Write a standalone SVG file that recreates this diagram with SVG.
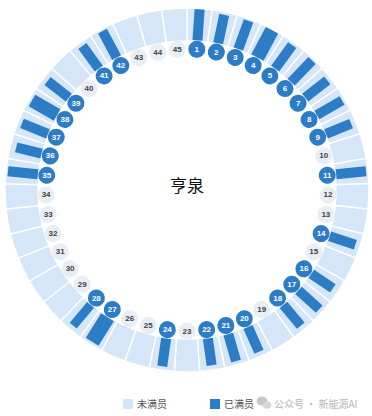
<svg xmlns="http://www.w3.org/2000/svg" xmlns:xlink="http://www.w3.org/1999/xlink" width="372" height="416" viewBox="0 0 372 416">
<style>
.wedge{fill:#d4e6f7;stroke:#ffffff;stroke-width:1.4}
.bar{fill:#2d7cc6}
.dot{fill:#2d7cc6}
.dotl{fill:#e9eef4}
.ld{font-family:"Liberation Sans",Arial,sans-serif;font-size:8px;font-weight:bold;fill:#ffffff;text-anchor:middle;dominant-baseline:central}
.ll{font-family:"Liberation Sans",Arial,sans-serif;font-size:8px;font-weight:bold;fill:#444444;text-anchor:middle;dominant-baseline:central}
.leg{font-family:"Noto Sans CJK SC","Liberation Sans",sans-serif;font-size:10px;fill:#555555}
.wm{font-family:"Noto Sans CJK SC","Liberation Sans",sans-serif;font-size:10px;fill:#b5b5b5}
</style>
<defs>
<path id="wedge" class="wedge" d="M174.304,8.443 A182,182 0 0 1 199.696,8.443 L197.394,41.363 A149,149 0 0 0 176.606,41.363 Z"/>
</defs>
<rect width="372" height="416" fill="#ffffff"/>
<g id="connectors"></g>
<g id="ring">
<g id="seg-1" transform="rotate(4 187 190)"><use xlink:href="#wedge" href="#wedge"/><rect class="bar" x="182" y="9" width="10" height="31"/><circle class="dot" cx="187" cy="49" r="8.5"/><text class="ld" x="187" y="49" transform="rotate(-4 187 49)">1</text></g>
<g id="seg-2" transform="rotate(12 187 190)"><use xlink:href="#wedge" href="#wedge"/><rect class="bar" x="182" y="11" width="10" height="29"/><circle class="dot" cx="187" cy="49" r="8.5"/><text class="ld" x="187" y="49" transform="rotate(-12 187 49)">2</text></g>
<g id="seg-3" transform="rotate(20 187 190)"><use xlink:href="#wedge" href="#wedge"/><rect class="bar" x="182" y="10" width="10" height="30"/><circle class="dot" cx="187" cy="49" r="8.5"/><text class="ld" x="187" y="49" transform="rotate(-20 187 49)">3</text></g>
<g id="seg-4" transform="rotate(28 187 190)"><use xlink:href="#wedge" href="#wedge"/><rect class="bar" x="180" y="9" width="14" height="31"/><circle class="dot" cx="187" cy="49" r="8.5"/><text class="ld" x="187" y="49" transform="rotate(-28 187 49)">4</text></g>
<g id="seg-5" transform="rotate(36 187 190)"><use xlink:href="#wedge" href="#wedge"/><rect class="bar" x="182" y="11" width="10" height="29"/><circle class="dot" cx="187" cy="49" r="8.5"/><text class="ld" x="187" y="49" transform="rotate(-36 187 49)">5</text></g>
<g id="seg-6" transform="rotate(44 187 190)"><use xlink:href="#wedge" href="#wedge"/><rect class="bar" x="182" y="10" width="10" height="30"/><circle class="dot" cx="187" cy="49" r="8.5"/><text class="ld" x="187" y="49" transform="rotate(-44 187 49)">6</text></g>
<g id="seg-7" transform="rotate(52 187 190)"><use xlink:href="#wedge" href="#wedge"/><rect class="bar" x="182" y="12" width="10" height="28"/><circle class="dot" cx="187" cy="49" r="8.5"/><text class="ld" x="187" y="49" transform="rotate(-52 187 49)">7</text></g>
<g id="seg-8" transform="rotate(60 187 190)"><use xlink:href="#wedge" href="#wedge"/><rect class="bar" x="182" y="11" width="10" height="29"/><circle class="dot" cx="187" cy="49" r="8.5"/><text class="ld" x="187" y="49" transform="rotate(-60 187 49)">8</text></g>
<g id="seg-9" transform="rotate(68 187 190)"><use xlink:href="#wedge" href="#wedge"/><rect class="bar" x="182" y="13" width="10" height="27"/><circle class="dot" cx="187" cy="49" r="8.5"/><text class="ld" x="187" y="49" transform="rotate(-68 187 49)">9</text></g>
<g id="seg-10" transform="rotate(76 187 190)"><use xlink:href="#wedge" href="#wedge"/><circle class="dotl" cx="187" cy="49" r="8.5"/><text class="ll" x="187" y="49" transform="rotate(-76 187 49)">10</text></g>
<g id="seg-11" transform="rotate(84 187 190)"><use xlink:href="#wedge" href="#wedge"/><rect class="bar" x="182" y="10" width="10" height="30"/><circle class="dot" cx="187" cy="49" r="8.5"/><text class="ld" x="187" y="49" transform="rotate(-84 187 49)">11</text></g>
<g id="seg-12" transform="rotate(92 187 190)"><use xlink:href="#wedge" href="#wedge"/><circle class="dotl" cx="187" cy="49" r="8.5"/><text class="ll" x="187" y="49" transform="rotate(-92 187 49)">12</text></g>
<g id="seg-13" transform="rotate(100 187 190)"><use xlink:href="#wedge" href="#wedge"/><circle class="dotl" cx="187" cy="49" r="8.5"/><text class="ll" x="187" y="49" transform="rotate(-100 187 49)">13</text></g>
<g id="seg-14" transform="rotate(108 187 190)"><use xlink:href="#wedge" href="#wedge"/><rect class="bar" x="182" y="13" width="10" height="27"/><circle class="dot" cx="187" cy="49" r="8.5"/><text class="ld" x="187" y="49" transform="rotate(-108 187 49)">14</text></g>
<g id="seg-15" transform="rotate(116 187 190)"><use xlink:href="#wedge" href="#wedge"/><circle class="dotl" cx="187" cy="49" r="8.5"/><text class="ll" x="187" y="49" transform="rotate(-116 187 49)">15</text></g>
<g id="seg-16" transform="rotate(124 187 190)"><use xlink:href="#wedge" href="#wedge"/><rect class="bar" x="182" y="14" width="10" height="26"/><circle class="dot" cx="187" cy="49" r="8.5"/><text class="ld" x="187" y="49" transform="rotate(-124 187 49)">16</text></g>
<g id="seg-17" transform="rotate(132 187 190)"><use xlink:href="#wedge" href="#wedge"/><rect class="bar" x="182" y="12" width="10" height="28"/><circle class="dot" cx="187" cy="49" r="8.5"/><text class="ld" x="187" y="49" transform="rotate(-132 187 49)">17</text></g>
<g id="seg-18" transform="rotate(140 187 190)"><use xlink:href="#wedge" href="#wedge"/><rect class="bar" x="182" y="13" width="10" height="27"/><circle class="dot" cx="187" cy="49" r="8.5"/><text class="ld" x="187" y="49" transform="rotate(-140 187 49)">18</text></g>
<g id="seg-19" transform="rotate(148 187 190)"><use xlink:href="#wedge" href="#wedge"/><circle class="dotl" cx="187" cy="49" r="8.5"/><text class="ll" x="187" y="49" transform="rotate(-148 187 49)">19</text></g>
<g id="seg-20" transform="rotate(156 187 190)"><use xlink:href="#wedge" href="#wedge"/><rect class="bar" x="182" y="13" width="10" height="27"/><circle class="dot" cx="187" cy="49" r="8.5"/><text class="ld" x="187" y="49" transform="rotate(-156 187 49)">20</text></g>
<g id="seg-21" transform="rotate(164 187 190)"><use xlink:href="#wedge" href="#wedge"/><rect class="bar" x="182" y="12" width="10" height="28"/><circle class="dot" cx="187" cy="49" r="8.5"/><text class="ld" x="187" y="49" transform="rotate(-164 187 49)">21</text></g>
<g id="seg-22" transform="rotate(172 187 190)"><use xlink:href="#wedge" href="#wedge"/><rect class="bar" x="182" y="13" width="10" height="27"/><circle class="dot" cx="187" cy="49" r="8.5"/><text class="ld" x="187" y="49" transform="rotate(-172 187 49)">22</text></g>
<g id="seg-23" transform="rotate(180 187 190)"><use xlink:href="#wedge" href="#wedge"/><circle class="dotl" cx="187" cy="49" r="8.5"/><text class="ll" x="187" y="49" transform="rotate(-180 187 49)">23</text></g>
<g id="seg-24" transform="rotate(188 187 190)"><use xlink:href="#wedge" href="#wedge"/><rect class="bar" x="182" y="12" width="10" height="28"/><circle class="dot" cx="187" cy="49" r="8.5"/><text class="ld" x="187" y="49" transform="rotate(-188 187 49)">24</text></g>
<g id="seg-25" transform="rotate(196 187 190)"><use xlink:href="#wedge" href="#wedge"/><circle class="dotl" cx="187" cy="49" r="8.5"/><text class="ll" x="187" y="49" transform="rotate(-196 187 49)">25</text></g>
<g id="seg-26" transform="rotate(204 187 190)"><use xlink:href="#wedge" href="#wedge"/><circle class="dotl" cx="187" cy="49" r="8.5"/><text class="ll" x="187" y="49" transform="rotate(-204 187 49)">26</text></g>
<g id="seg-27" transform="rotate(212 187 190)"><use xlink:href="#wedge" href="#wedge"/><rect class="bar" x="179.5" y="11" width="15" height="29"/><circle class="dot" cx="187" cy="49" r="8.5"/><text class="ld" x="187" y="49" transform="rotate(-212 187 49)">27</text></g>
<g id="seg-28" transform="rotate(220 187 190)"><use xlink:href="#wedge" href="#wedge"/><rect class="bar" x="182.5" y="13" width="9" height="27"/><circle class="dot" cx="187" cy="49" r="8.5"/><text class="ld" x="187" y="49" transform="rotate(-220 187 49)">28</text></g>
<g id="seg-29" transform="rotate(228 187 190)"><use xlink:href="#wedge" href="#wedge"/><circle class="dotl" cx="187" cy="49" r="8.5"/><text class="ll" x="187" y="49" transform="rotate(-228 187 49)">29</text></g>
<g id="seg-30" transform="rotate(236 187 190)"><use xlink:href="#wedge" href="#wedge"/><circle class="dotl" cx="187" cy="49" r="8.5"/><text class="ll" x="187" y="49" transform="rotate(-236 187 49)">30</text></g>
<g id="seg-31" transform="rotate(244 187 190)"><use xlink:href="#wedge" href="#wedge"/><circle class="dotl" cx="187" cy="49" r="8.5"/><text class="ll" x="187" y="49" transform="rotate(-244 187 49)">31</text></g>
<g id="seg-32" transform="rotate(252 187 190)"><use xlink:href="#wedge" href="#wedge"/><circle class="dotl" cx="187" cy="49" r="8.5"/><text class="ll" x="187" y="49" transform="rotate(-252 187 49)">32</text></g>
<g id="seg-33" transform="rotate(260 187 190)"><use xlink:href="#wedge" href="#wedge"/><circle class="dotl" cx="187" cy="49" r="8.5"/><text class="ll" x="187" y="49" transform="rotate(-260 187 49)">33</text></g>
<g id="seg-34" transform="rotate(268 187 190)"><use xlink:href="#wedge" href="#wedge"/><circle class="dotl" cx="187" cy="49" r="8.5"/><text class="ll" x="187" y="49" transform="rotate(-268 187 49)">34</text></g>
<g id="seg-35" transform="rotate(276 187 190)"><use xlink:href="#wedge" href="#wedge"/><rect class="bar" x="182" y="10" width="10" height="30"/><circle class="dot" cx="187" cy="49" r="8.5"/><text class="ld" x="187" y="49" transform="rotate(-276 187 49)">35</text></g>
<g id="seg-36" transform="rotate(284 187 190)"><use xlink:href="#wedge" href="#wedge"/><rect class="bar" x="182" y="14" width="10" height="26"/><circle class="dot" cx="187" cy="49" r="8.5"/><text class="ld" x="187" y="49" transform="rotate(-284 187 49)">36</text></g>
<g id="seg-37" transform="rotate(292 187 190)"><use xlink:href="#wedge" href="#wedge"/><rect class="bar" x="182" y="12" width="10" height="28"/><circle class="dot" cx="187" cy="49" r="8.5"/><text class="ld" x="187" y="49" transform="rotate(-292 187 49)">37</text></g>
<g id="seg-38" transform="rotate(300 187 190)"><use xlink:href="#wedge" href="#wedge"/><rect class="bar" x="180.5" y="11" width="13" height="29"/><circle class="dot" cx="187" cy="49" r="8.5"/><text class="ld" x="187" y="49" transform="rotate(-300 187 49)">38</text></g>
<g id="seg-39" transform="rotate(308 187 190)"><use xlink:href="#wedge" href="#wedge"/><rect class="bar" x="182" y="13" width="10" height="27"/><circle class="dot" cx="187" cy="49" r="8.5"/><text class="ld" x="187" y="49" transform="rotate(-308 187 49)">39</text></g>
<g id="seg-40" transform="rotate(316 187 190)"><use xlink:href="#wedge" href="#wedge"/><circle class="dotl" cx="187" cy="49" r="8.5"/><text class="ll" x="187" y="49" transform="rotate(-316 187 49)">40</text></g>
<g id="seg-41" transform="rotate(324 187 190)"><use xlink:href="#wedge" href="#wedge"/><rect class="bar" x="182" y="12" width="10" height="28"/><circle class="dot" cx="187" cy="49" r="8.5"/><text class="ld" x="187" y="49" transform="rotate(-324 187 49)">41</text></g>
<g id="seg-42" transform="rotate(332 187 190)"><use xlink:href="#wedge" href="#wedge"/><rect class="bar" x="182" y="10" width="10" height="30"/><circle class="dot" cx="187" cy="49" r="8.5"/><text class="ld" x="187" y="49" transform="rotate(-332 187 49)">42</text></g>
<g id="seg-43" transform="rotate(340 187 190)"><use xlink:href="#wedge" href="#wedge"/><circle class="dotl" cx="187" cy="49" r="8.5"/><text class="ll" x="187" y="49" transform="rotate(-340 187 49)">43</text></g>
<g id="seg-44" transform="rotate(348 187 190)"><use xlink:href="#wedge" href="#wedge"/><circle class="dotl" cx="187" cy="49" r="8.5"/><text class="ll" x="187" y="49" transform="rotate(-348 187 49)">44</text></g>
<g id="seg-45" transform="rotate(356 187 190)"><use xlink:href="#wedge" href="#wedge"/><circle class="dotl" cx="187" cy="49" r="8.5"/><text class="ll" x="187" y="49" transform="rotate(-356 187 49)">45</text></g>
</g>
<g id="center">
<text x="187" y="192" font-family="'Noto Sans CJK SC','Liberation Sans',sans-serif" font-size="17" fill="#111111" text-anchor="middle">亨泉</text>
</g>
<g id="legend">
<rect x="123" y="399" width="10" height="10" fill="#d4e6f7"/>
<text class="leg" x="137" y="408">未满员</text>
<rect x="210" y="399" width="10" height="10" fill="#2d7cc6"/>
<text class="leg" x="224" y="408">已满员</text>
</g>
<g id="watermark">
<ellipse cx="262" cy="401" rx="5.5" ry="4.5" fill="#c8c8c8"/>
<ellipse cx="267" cy="405" rx="4.5" ry="3.8" fill="#d6d6d6"/>
<text class="wm" x="274" y="408">公众号 · 新能源AI</text>
</g>
</svg>
